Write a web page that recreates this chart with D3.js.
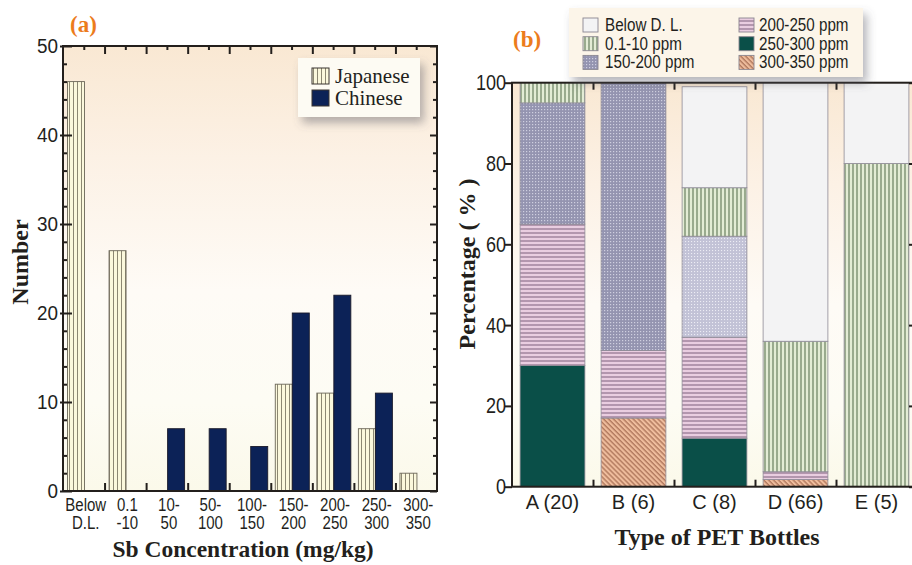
<!DOCTYPE html>
<html><head><meta charset="utf-8">
<script src="https://cdn.jsdelivr.net/npm/d3@7"></script>
<style>
html,body{margin:0;padding:0;background:#fff;}
svg{display:block;}
.sans{font-family:"Liberation Sans",Arial,sans-serif;}
.serifb{font-family:"Liberation Serif","Times New Roman",serif;font-weight:bold;}
.serif{font-family:"Liberation Serif","Times New Roman",serif;}
</style>
</head><body>
<script>
// ---------- DATA ----------
// Panel (a)
const categories = ["Below\nD.L.", "0.1\n-10", "10-\n50", "50-\n100", "100-\n150", "150-\n200", "200-\n250", "250-\n300", "300-\n350"];
const japanese = [46, 27, 0, 0, 0, 12, 11, 7, 2];
const chinese  = [0, 0, 7, 7, 5, 20, 22, 11, 0];
const yTicksA = [0, 10, 20, 30, 40, 50];
const seriesA = ["Japanese", "Chinese"];

// Panel (b)
const bottles = ["A (20)", "B (6)", "C (8)", "D (66)", "E (5)"];
const ppm300_350 = [0, 17, 0, 1.8, 0];
const ppm250_300 = [30, 0, 12, 0, 0];
const ppm200_250 = [35, 16.7, 25, 1.9, 0];
const ppm150_200 = [30, 66.3, 25, 0, 0];
const ppm0_10    = [5, 0, 12, 32.3, 80];
const belowDL    = [0, 0, 25, 64, 20];
const yTicksB = [0, 20, 40, 60, 80, 100];
const seriesB = ["300-350 ppm", "250-300 ppm", "200-250 ppm", "150-200 ppm", "0.1-10 ppm", "Below D. L."];
const legendOrderB = ["Below D. L.", "0.1-10 ppm", "150-200 ppm", "200-250 ppm", "250-300 ppm", "300-350 ppm"];

// ---------- SETUP ----------
const W = 912, H = 565;
const svg = d3.select("body").append("svg").attr("width", W).attr("height", H);
const defs = svg.append("defs");
const axisColor = "#231f1c";
const textColor = "#231f1c";

// background gradient
const bg = defs.append("linearGradient").attr("id", "bgGrad").attr("x1", 0).attr("y1", 0).attr("x2", 0).attr("y2", 1);
[[0, "#f9e8d3"], [0.25, "#fcf1e5"], [0.55, "#fefbf6"], [0.8, "#fdfcf4"], [1, "#fbf9ea"]].forEach(([o, c]) =>
  bg.append("stop").attr("offset", o).attr("stop-color", c));

// shadow filter
const f = defs.append("filter").attr("id", "shadow").attr("x", "-20%").attr("y", "-30%").attr("width", "150%").attr("height", "170%");
f.append("feDropShadow").attr("dx", 4).attr("dy", 6).attr("stdDeviation", 5).attr("flood-color", "#5a5a66").attr("flood-opacity", 0.45);

function pat(id, w, h, base, draw, transform) {
  const p = defs.append("pattern").attr("id", id).attr("patternUnits", "userSpaceOnUse").attr("width", w).attr("height", h);
  if (transform) p.attr("patternTransform", transform);
  p.append("rect").attr("width", w).attr("height", h).attr("fill", base);
  draw(p);
}
pat("pJap", 4, 10, "#fbf8dc", p => p.append("line").attr("x1", 1.5).attr("x2", 1.5).attr("y1", 0).attr("y2", 10).attr("stroke", "#7f7a66").attr("stroke-width", 0.9));
pat("pGreen", 4, 10, "#e3ecd5", p => p.append("line").attr("x1", 1).attr("x2", 1).attr("y1", 0).attr("y2", 10).attr("stroke", "#879a7c").attr("stroke-width", 1.6));
pat("pPink", 10, 4, "#e9cde0", p => p.append("line").attr("x1", 0).attr("x2", 10).attr("y1", 1).attr("y2", 1).attr("stroke", "#7d5f7c").attr("stroke-width", 1));
pat("pSalmon", 3.5, 10, "#efbd9d", p => p.append("line").attr("x1", 1).attr("x2", 1).attr("y1", 0).attr("y2", 10).attr("stroke", "#a0664c").attr("stroke-width", 1.1), "rotate(-45)");
pat("pDots", 3, 3, "#9494b0", p => p.append("rect").attr("x", 1).attr("y", 1).attr("width", 1.2).attr("height", 1.2).attr("fill", "#cfcfe0"));
pat("pDotsLight", 3, 3, "#c2c2d6", p => p.append("rect").attr("x", 1).attr("y", 1).attr("width", 1.1).attr("height", 1.1).attr("fill", "#ececf4"));

const fillB = {
  "Below D. L.": "#f3f3f4",
  "0.1-10 ppm": "url(#pGreen)",
  "150-200 ppm": "url(#pDots)",
  "200-250 ppm": "url(#pPink)",
  "250-300 ppm": "#0a4f48",
  "300-350 ppm": "url(#pSalmon)"
};
const lightDotBars = ["C (8)"];
const fillA = { "Japanese": "url(#pJap)", "Chinese": "#0c2257" };

// condensed sans text helper (Helvetica-Narrow look)
function narrowText(sel, x, y, size, sx, txt, anchor) {
  return sel.append("text").attr("class", "sans").attr("font-size", size).attr("fill", textColor)
    .attr("text-anchor", anchor || "start")
    .attr("transform", `translate(${x},${y}) scale(${sx},1)`).text(txt);
}

// ---------- PANEL (a) ----------
const A = { l: 63, r: 437, t: 46, b: 491 };
const gA = svg.append("g");
gA.append("rect").attr("x", A.l).attr("y", A.t).attr("width", A.r - A.l).attr("height", A.b - A.t).attr("fill", "url(#bgGrad)");

const xA = d3.scaleBand().domain(categories).range([A.l, A.r]).padding(0);
const xSub = d3.scaleBand().domain(seriesA).range([4.5, 38.5]).padding(0);
const yA = d3.scaleLinear().domain([0, 50]).range([A.b, A.t]);
const idxA = d3.scaleLinear().domain([0, categories.length]).range([A.l, A.r]);

const rowsA = categories.map((c, i) => ({ c, Japanese: japanese[i], Chinese: chinese[i] }));
rowsA.forEach(r => {
  seriesA.forEach(s => {
    if (r[s] > 0) {
      gA.append("rect").attr("x", xA(r.c) + xSub(s)).attr("width", xSub.bandwidth())
        .attr("y", yA(r[s])).attr("height", yA(0) - yA(r[s]))
        .attr("fill", fillA[s]).attr("stroke", s === "Japanese" ? "#6b6658" : "#1a1a2a").attr("stroke-width", 0.9);
    }
  });
});

// axes (a)
function styleAxis(g) {
  g.select(".domain").remove();
  g.selectAll("line").attr("stroke", axisColor).attr("stroke-width", 2);
}
const minorA = d3.range(0, 51, 2).filter(v => v % 10 !== 0);
gA.append("g").attr("transform", `translate(${A.l},0)`)
  .call(d3.axisLeft(yA).tickValues(yTicksA).tickSize(-9).tickPadding(5))
  .call(styleAxis)
  .call(g => g.selectAll("line").attr("x1", -3))
  .call(g => g.selectAll("text").attr("class", "sans").attr("font-family", null).attr("font-size", 21).attr("fill", textColor)
    .attr("transform", "scale(0.9,1)").attr("x", -5 / 0.9));
gA.append("g").attr("transform", `translate(${A.l},0)`)
  .call(d3.axisLeft(yA).tickValues(minorA).tickSize(-4).tickFormat(""))
  .call(styleAxis);
gA.append("g").attr("transform", `translate(${A.r},0)`)
  .call(d3.axisRight(yA).tickValues(yTicksA).tickSize(-7).tickFormat(""))
  .call(styleAxis);
gA.append("g").attr("transform", `translate(${A.r},0)`)
  .call(d3.axisRight(yA).tickValues(minorA).tickSize(-4).tickFormat(""))
  .call(styleAxis);
gA.append("g").attr("transform", `translate(0,${A.b})`)
  .call(d3.axisBottom(idxA).tickValues(d3.range(1, categories.length)).tickSize(-8).tickFormat(""))
  .call(styleAxis);
gA.append("g").attr("transform", `translate(0,${A.t})`)
  .call(d3.axisTop(idxA).tickValues(d3.range(1, categories.length)).tickSize(-8).tickFormat(""))
  .call(styleAxis);
gA.append("g").attr("transform", `translate(0,${A.t})`)
  .call(d3.axisTop(idxA).tickValues(d3.range(0.5, categories.length, 1)).tickSize(-4).tickFormat(""))
  .call(styleAxis);
// category labels (two lines each)
const labA = gA.append("g").attr("transform", `translate(0,${A.b})`)
  .call(d3.axisBottom(xA).tickSize(0).tickPadding(0).tickFormat(""));
labA.select(".domain").remove();
labA.selectAll(".tick").each(function (d) {
  const tick = d3.select(this);
  const t = tick.append("text").attr("class", "sans").attr("font-size", 19).attr("fill", textColor)
    .attr("text-anchor", "middle").attr("transform", "translate(2,0) scale(0.79,1)");
  d.split("\n").forEach((ln, i) => t.append("tspan").attr("x", 0).attr("y", 20 + i * 18.5).text(ln));
});
gA.append("rect").attr("x", A.l).attr("y", A.t).attr("width", A.r - A.l).attr("height", A.b - A.t)
  .attr("fill", "none").attr("stroke", axisColor).attr("stroke-width", 2);

// legend (a)
const legA = gA.append("g");
legA.append("rect").attr("x", 298).attr("y", 58).attr("width", 122).attr("height", 59).attr("fill", "#fdfbf3").attr("filter", "url(#shadow)");
seriesA.forEach((s, i) => {
  legA.append("rect").attr("x", 312).attr("y", 68 + i * 22).attr("width", 17).attr("height", 16)
    .attr("fill", fillA[s]).attr("stroke", "#3a3530").attr("stroke-width", 1);
  legA.append("text").attr("class", "serif").attr("x", 335).attr("y", 83 + i * 22).attr("font-size", 21).attr("fill", textColor).text(s);
});

svg.append("text").attr("class", "serifb").attr("x", 70).attr("y", 32).attr("font-size", 23).attr("fill", "#ec7c1c").text("(a)");
svg.append("text").attr("class", "serifb").attr("transform", "translate(28,262) rotate(-90)").attr("text-anchor", "middle")
  .attr("font-size", 24).attr("fill", textColor).text("Number");
svg.append("text").attr("class", "serifb").attr("x", 243).attr("y", 557).attr("text-anchor", "middle")
  .attr("font-size", 23.5).attr("fill", textColor).text("Sb Concentration (mg/kg)");

// ---------- PANEL (b) ----------
const B = { l: 512, r: 917, t: 82.7, b: 486.7 };
const gB = svg.append("g");
gB.append("rect").attr("x", B.l).attr("y", B.t).attr("width", B.r - B.l).attr("height", B.b - B.t).attr("fill", "url(#bgGrad)");

const xB = d3.scaleBand().domain(bottles).range([B.l, B.r]).paddingInner(0.2).paddingOuter(0.1);
const yB = d3.scaleLinear().domain([0, 100]).range([B.b, B.t]);
const idxB = d3.scaleLinear().domain([0, bottles.length]).range([B.l, B.r]);

const valuesB = {
  "300-350 ppm": ppm300_350, "250-300 ppm": ppm250_300, "200-250 ppm": ppm200_250,
  "150-200 ppm": ppm150_200, "0.1-10 ppm": ppm0_10, "Below D. L.": belowDL
};
const rowsB = bottles.map((b, i) => { const o = { b }; seriesB.forEach(s => o[s] = valuesB[s][i]); return o; });
const stacked = d3.stack().keys(seriesB)(rowsB);
stacked.forEach(layer => {
  layer.forEach(seg => {
    if (seg[1] - seg[0] <= 0) return;
    const bottle = seg.data.b;
    let fill = fillB[layer.key];
    if (layer.key === "150-200 ppm" && lightDotBars.includes(bottle)) fill = "url(#pDotsLight)";
    gB.append("rect").attr("x", xB(bottle)).attr("width", xB.bandwidth())
      .attr("y", yB(seg[1])).attr("height", yB(seg[0]) - yB(seg[1]))
      .attr("fill", fill).attr("stroke", "#8e8a96").attr("stroke-width", 0.8);
  });
});

gB.append("g").attr("transform", `translate(${B.l},0)`)
  .call(d3.axisLeft(yB).tickValues(yTicksB).tickSize(7).tickPadding(0))
  .call(styleAxis)
  .call(g => g.selectAll("text").attr("class", "sans").attr("font-family", null).attr("font-size", 22).attr("fill", textColor)
    .attr("transform", "scale(0.82,1)").attr("x", -6 / 0.82));
gB.append("g").attr("transform", `translate(${B.r},0)`)
  .call(d3.axisRight(yB).tickValues(yTicksB).tickSize(-8).tickFormat(""))
  .call(styleAxis);
gB.append("g").attr("transform", `translate(0,${B.b})`)
  .call(d3.axisBottom(idxB).tickValues(d3.range(1, bottles.length)).tickSize(-7).tickFormat(""))
  .call(styleAxis);
gB.append("g").attr("transform", `translate(0,${B.t})`)
  .call(d3.axisTop(idxB).tickValues(d3.range(1, bottles.length)).tickSize(-7).tickFormat(""))
  .call(styleAxis);
gB.append("g").attr("transform", `translate(0,${B.b})`)
  .call(d3.axisBottom(xB).tickSize(0).tickPadding(8))
  .call(g => g.select(".domain").remove())
  .call(g => g.selectAll("text").attr("class", "sans").attr("font-family", null).attr("font-size", 20).attr("fill", textColor).attr("dy", "0.71em"));
gB.append("rect").attr("x", B.l).attr("y", B.t).attr("width", B.r - B.l).attr("height", B.b - B.t)
  .attr("fill", "none").attr("stroke", axisColor).attr("stroke-width", 2);

// legend (b)
const legB = svg.append("g");
legB.append("rect").attr("x", 569).attr("y", 8).attr("width", 294).attr("height", 69).attr("fill", "#fcf5e9").attr("filter", "url(#shadow)");
legendOrderB.forEach((s, i) => {
  const col = Math.floor(i / 3), row = i % 3;
  const sx = col === 0 ? 583 : 739, tx = col === 0 ? 605 : 759;
  legB.append("rect").attr("x", sx).attr("y", 18 + row * 18.7).attr("width", 15).attr("height", 14)
    .attr("fill", fillB[s]).attr("stroke", "#8a8690").attr("stroke-width", 0.9);
  narrowText(legB, tx, 31 + row * 18.7, 19, 0.8, s);
});

svg.append("text").attr("class", "serifb").attr("x", 513).attr("y", 47).attr("font-size", 23).attr("fill", "#ec7c1c").text("(b)");
svg.append("text").attr("class", "serifb").attr("transform", "translate(475,264) rotate(-90)").attr("text-anchor", "middle")
  .attr("font-size", 24).attr("fill", textColor).text("Percentage ( % )");
svg.append("text").attr("class", "serifb").attr("x", 717).attr("y", 545).attr("text-anchor", "middle")
  .attr("font-size", 24).attr("fill", textColor).text("Type of PET Bottles");
</script>
</body></html>
